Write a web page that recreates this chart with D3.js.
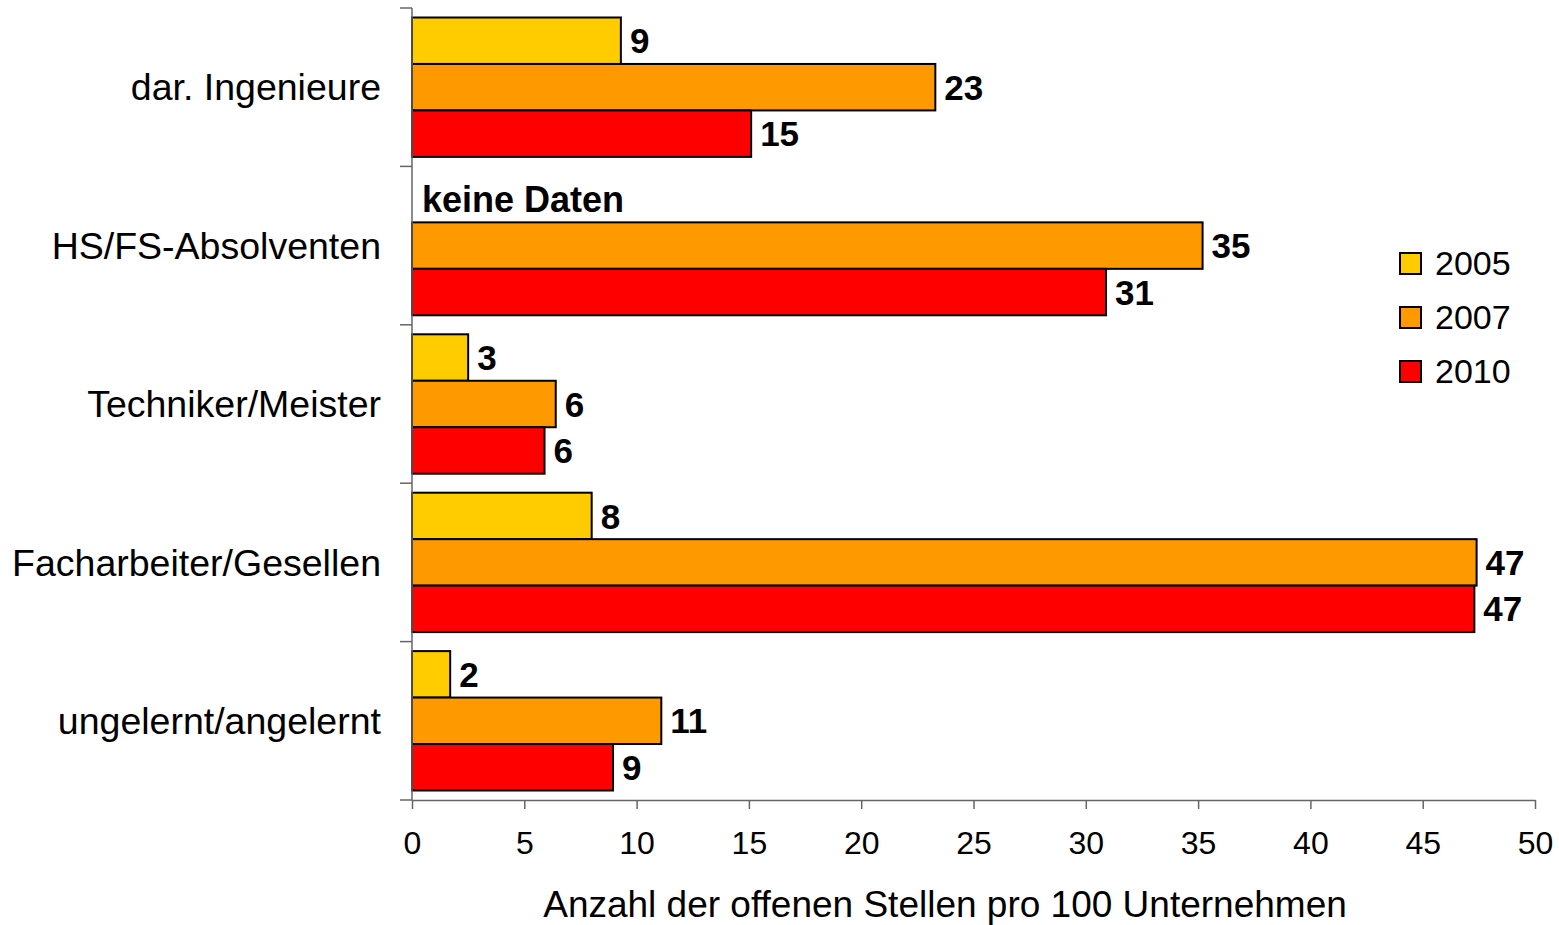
<!DOCTYPE html>
<html>
<head>
<meta charset="utf-8">
<script src="https://cdn.jsdelivr.net/npm/d3@7"></script>
<style>
  body { margin: 0; background: #fff; }
  svg { font-family: "Liberation Sans", Arial, sans-serif; }
</style>
</head>
<body>
<div id="chart"></div>
<script>
var categories = ['dar. Ingenieure', 'HS/FS-Absolventen', 'Techniker/Meister', 'Facharbeiter/Gesellen', 'ungelernt/angelernt'];
var years = ['2005', '2007', '2010'];
var values2005 = [9.3, null, 2.5, 8.0, 1.7];
var values2007 = [23.3, 35.2, 6.4, 47.4, 11.1];
var values2010 = [15.1, 30.9, 5.9, 47.3, 8.95];
var colors = ['#ffcc00', '#ff9900', '#ff0000'];
var xTicks = [0, 5, 10, 15, 20, 25, 30, 35, 40, 45, 50];
var xTitle = 'Anzahl der offenen Stellen pro 100 Unternehmen';
var noDataText = 'keine Daten';

(function() {
    var width = 1559, height = 925,
        left = 412, right = 1535, plotTop = 8, plotBottom = 800;

    var series = [values2005, values2007, values2010];

    var svg = d3.select('#chart').append('svg')
        .attr('width', width)
        .attr('height', height);

    var x = d3.scaleLinear().domain([0, 50]).range([left, right]);
    var y0 = d3.scaleBand().domain(categories).range([plotTop, plotBottom]);
    var y1 = d3.scaleBand().domain(years).range([9.5, y0.bandwidth() - 9.5]);

    var fmt = d3.format('.0f');

    // bars
    categories.forEach(function(cat, ci) {
        var g = svg.append('g').attr('transform', 'translate(0,' + y0(cat) + ')');
        years.forEach(function(yr, si) {
            var v = series[si][ci];
            if (v === null) {
                g.append('text')
                    .attr('x', x(0) + 10)
                    .attr('y', y1(yr) + y1.bandwidth() / 2)
                    .attr('dy', '0.35em')
                    .style('font-size', '36px')
                    .style('font-weight', 'bold')
                    .text(noDataText);
                return;
            }
            g.append('rect')
                .attr('x', x(0))
                .attr('y', y1(yr))
                .attr('width', x(v) - x(0))
                .attr('height', y1.bandwidth())
                .attr('fill', colors[si])
                .attr('stroke', '#000')
                .attr('stroke-width', 2);
            g.append('text')
                .attr('x', x(v) + 9)
                .attr('y', y1(yr) + y1.bandwidth() / 2)
                .attr('dy', '0.36em')
                .style('font-size', '35px')
                .style('font-weight', 'bold')
                .text(fmt(v));
        });
    });

    // y axis
    svg.append('line')
        .attr('x1', left).attr('x2', left)
        .attr('y1', plotTop).attr('y2', plotBottom)
        .attr('stroke', '#666').attr('stroke-width', 1.5);
    var yTickPos = categories.map(function(c) { return y0(c); }).concat([plotBottom]);
    svg.selectAll('.ytick')
        .data(yTickPos)
        .enter()
        .append('line')
        .attr('class', 'ytick')
        .attr('x1', left - 12).attr('x2', left)
        .attr('y1', function(d) { return d; })
        .attr('y2', function(d) { return d; })
        .attr('stroke', '#666').attr('stroke-width', 1.5);
    svg.selectAll('.ylabel')
        .data(categories)
        .enter()
        .append('text')
        .attr('class', 'ylabel')
        .attr('x', 381)
        .attr('y', function(d) { return y0(d) + y0.bandwidth() / 2; })
        .attr('dy', '0.35em')
        .attr('text-anchor', 'end')
        .style('font-size', '37.5px')
        .text(function(d) { return d; });

    // x axis
    var xAxis = svg.append('g')
        .attr('transform', 'translate(0,' + plotBottom + ')')
        .call(d3.axisBottom(x).tickValues(xTicks).tickSize(9).tickPadding(22).tickSizeOuter(0));
    xAxis.select('.domain').attr('stroke', '#666').attr('stroke-width', 1.5);
    xAxis.selectAll('.tick line').attr('stroke', '#666').attr('stroke-width', 1.5);
    xAxis.selectAll('.tick text')
        .style('font-size', '32px')
        .style('font-family', '"Liberation Sans", Arial, sans-serif')
        .attr('fill', '#000');

    svg.append('text')
        .attr('x', 945)
        .attr('y', 904)
        .attr('dy', '0.35em')
        .attr('text-anchor', 'middle')
        .style('font-size', '37px')
        .text(xTitle);

    // legend
    var legend = svg.selectAll('.legend')
        .data(years)
        .enter()
        .append('g')
        .attr('class', 'legend')
        .attr('transform', function(d, i) { return 'translate(1400,' + (263 + i * 54) + ')'; });
    legend.append('rect')
        .attr('x', 0).attr('y', -10)
        .attr('width', 21).attr('height', 21)
        .attr('fill', function(d, i) { return colors[i]; })
        .attr('stroke', '#000').attr('stroke-width', 2);
    legend.append('text')
        .attr('x', 35).attr('y', 0)
        .attr('dy', '0.35em')
        .style('font-size', '34px')
        .text(function(d) { return d; });
})();
</script>
</body>
</html>
